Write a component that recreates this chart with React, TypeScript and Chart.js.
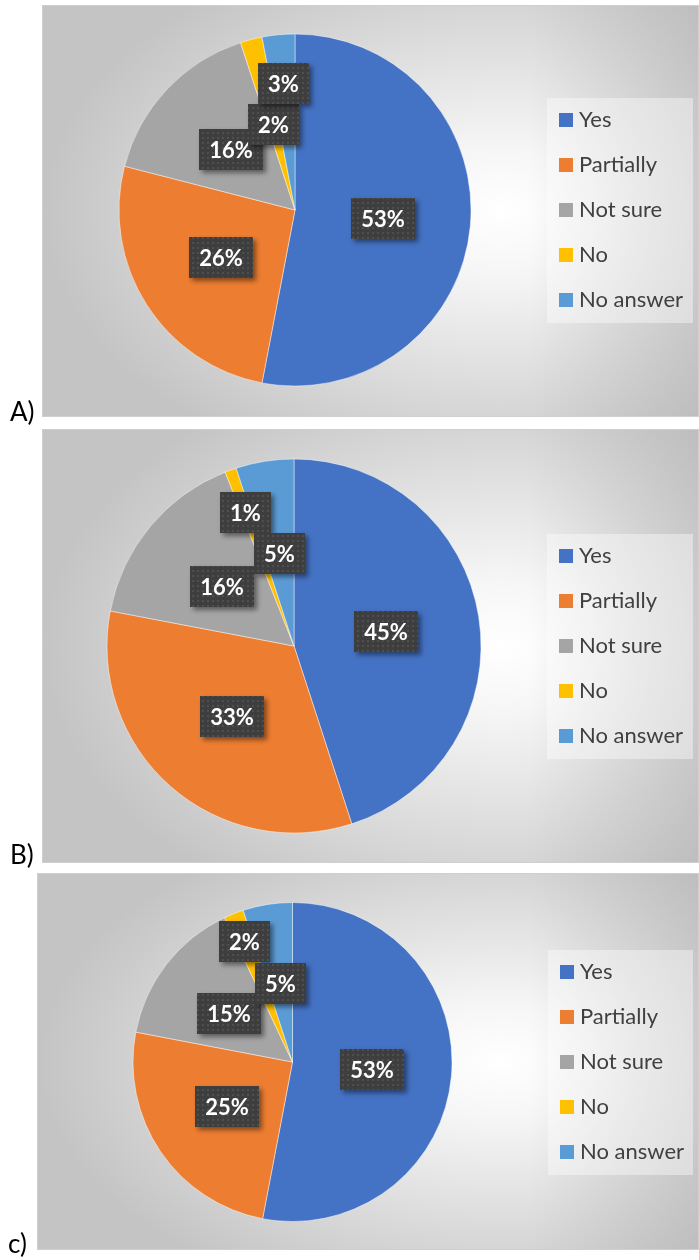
import React, { useEffect, useRef } from 'react';
import { Chart, registerables } from 'chart.js';

Chart.register(...registerables);

// ---------- data ----------
const categories = ['Yes', 'Partially', 'Not sure', 'No', 'No answer'];
const valuesA = [53, 26, 16, 2, 3];
const valuesB = [45, 33, 16, 1, 5];
const valuesC = [53, 25, 15, 2, 5];
const panelNames = ['A)', 'B)', 'c)'];
const sliceColors = ['#4472C4', '#ED7D31', '#A5A5A5', '#FFC000', '#5B9BD5'];

const FONT = 'Lato, "Open Sans", "DejaVu Sans", sans-serif';

type PanelCfg = {
  values: number[];
  name: string;
  top: number;
  height: number;
  panel: { x: number; y: number; w: number; h: number };
  padding: { left: number; top: number; right: number; bottom: number };
  legendX: number;
  labelOrder: number[];
  letterX: number;
  letterY: number;
};

const panels: PanelCfg[] = [
  {
    values: valuesA, name: panelNames[0], top: 0, height: 428,
    panel: { x: 42, y: 5, w: 657, h: 412 },
    padding: { left: 118.5, top: 33.5, right: 227.5, bottom: 41.5 },
    legendX: 559, labelOrder: [0, 1, 2, 3, 4], letterX: 10, letterY: 421,
  },
  {
    values: valuesB, name: panelNames[1], top: 428, height: 444,
    panel: { x: 42, y: 1, w: 657, h: 434 },
    padding: { left: 106.5, top: 30.5, right: 217.5, bottom: 38.5 },
    legendX: 559, labelOrder: [0, 1, 2, 4, 3], letterX: 10, letterY: 436,
  },
  {
    values: valuesC, name: panelNames[2], top: 872, height: 388,
    panel: { x: 37, y: 1, w: 662, h: 377 },
    padding: { left: 132.5, top: 30, right: 246.5, bottom: 38 },
    legendX: 560, labelOrder: [0, 1, 2, 4, 3], letterX: 8, letterY: 381,
  },
];

function makePattern(ctx: CanvasRenderingContext2D) {
  const c = document.createElement('canvas');
  c.width = 5;
  c.height = 5;
  const g = c.getContext('2d')!;
  g.fillStyle = '#3e3e3e';
  g.fillRect(0, 0, 5, 5);
  g.fillStyle = '#4f4f4f';
  g.fillRect(2, 2, 2, 2);
  return ctx.createPattern(c, 'repeat')!;
}

function PieChart({ cfg }: { cfg: PanelCfg }) {
  const ref = useRef<HTMLCanvasElement | null>(null);

  useEffect(() => {
    const canvas = ref.current!;
    const bgPlugin = {
      id: 'bgPanel',
      beforeDraw(chart: any) {
        const ctx: CanvasRenderingContext2D = chart.ctx;
        const { x, y, w, h } = cfg.panel;
        ctx.save();
        const gcx = x + 0.7 * w;
        const gcy = y + h / 2;
        const rx = 0.7 * w;
        const ry = 0.68 * h;
        ctx.save();
        ctx.beginPath();
        ctx.rect(x, y, w, h);
        ctx.clip();
        ctx.translate(gcx, gcy);
        ctx.scale(1, ry / rx);
        const g = ctx.createRadialGradient(0, 0, 0, 0, 0, rx);
        g.addColorStop(0, '#ffffff');
        g.addColorStop(0.22, '#f6f6f6');
        g.addColorStop(1, '#c4c4c4');
        ctx.fillStyle = g;
        ctx.fillRect(-gcx - 10, -(gcy + 10) * (rx / ry), 2000, 3000);
        ctx.restore();
        const lg = ctx.createLinearGradient(x + w - 170, 0, x + w, 0);
        lg.addColorStop(0, 'rgba(170,170,170,0)');
        lg.addColorStop(1, 'rgba(170,170,170,0.45)');
        ctx.fillStyle = lg;
        ctx.fillRect(x + w - 170, y, 170, h);
        ctx.strokeStyle = '#cfcfcf';
        ctx.lineWidth = 1;
        ctx.strokeRect(x + 0.5, y + 0.5, w - 1, h - 1);
        ctx.restore();
        ctx.save();
        ctx.font = `26px ${FONT}`;
        ctx.fillStyle = '#000000';
        ctx.textBaseline = 'alphabetic';
        ctx.textAlign = 'left';
        ctx.fillText(cfg.name, cfg.letterX, cfg.letterY);
        ctx.restore();
      },
    };

    const labelPlugin = {
      id: 'pctLabels',
      afterDatasetsDraw(chart: any) {
        const ctx: CanvasRenderingContext2D = chart.ctx;
        const meta = chart.getDatasetMeta(0);
        const data: number[] = chart.data.datasets[0].data;
        const pattern = makePattern(ctx);
        ctx.save();
        ctx.font = `bold 22px ${FONT}`;
        type R = { x: number; y: number; w: number; h: number };
        const placed: { i: number; r: R; cx: number; cy: number; text: string }[] = [];
        const overlap = (a: R, b: R) => {
          const ox = Math.max(0, Math.min(a.x + a.w, b.x + b.w) - Math.max(a.x, b.x));
          const oy = Math.max(0, Math.min(a.y + a.h, b.y + b.h) - Math.max(a.y, b.y));
          return ox * oy;
        };
        for (const i of cfg.labelOrder) {
          const arc = meta.data[i];
          const p = arc.getProps(['x', 'y', 'startAngle', 'endAngle', 'outerRadius'], true);
          const mid = (p.startAngle + p.endAngle) / 2;
          const text = `${data[i]}%`;
          const tw = ctx.measureText(text).width;
          const w = Math.round(tw + 20);
          const h = 41;
          const at = (d: number) => ({ cx: p.x + Math.cos(mid) * d, cy: p.y + Math.sin(mid) * d });
          const rectOf = (q: { cx: number; cy: number }): R => ({ x: q.cx - w / 2, y: q.cy - h / 2, w, h });
          let d = p.outerRadius / 2;
          let q = at(d);
          const heavy = placed.some(
            (b) => overlap(rectOf(q), b.r) / Math.min(w * h, b.r.w * b.r.h) > 0.4
          );
          if (heavy) {
            while (placed.some((b) => overlap(rectOf(at(d)), b.r) > 0) && d < p.outerRadius * 1.5) d += 0.5;
            q = at(d);
          }
          placed.push({ i, r: rectOf(q), cx: q.cx, cy: q.cy, text });
        }
        placed.sort((a, b) => a.i - b.i);
        for (const b of placed) {
          const rx = Math.round(b.r.x);
          const ry = Math.round(b.r.y);
          ctx.save();
          ctx.shadowColor = 'rgba(0,0,0,0.45)';
          ctx.shadowBlur = 5;
          ctx.shadowOffsetX = 3;
          ctx.shadowOffsetY = 3;
          ctx.fillStyle = pattern;
          ctx.fillRect(rx, ry, b.r.w, b.r.h);
          ctx.restore();
          ctx.fillStyle = '#ffffff';
          ctx.textAlign = 'center';
          ctx.textBaseline = 'middle';
          ctx.fillText(b.text, rx + b.r.w / 2, ry + b.r.h / 2 + 1);
        }
        ctx.restore();
      },
      afterDraw(chart: any) {
        const ctx: CanvasRenderingContext2D = chart.ctx;
        const area = chart.chartArea;
        const cy = (area.top + area.bottom) / 2;
        const labels: string[] = chart.data.labels;
        const colors: string[] = chart.data.datasets[0].backgroundColor;
        ctx.save();
        ctx.fillStyle = 'rgba(255,255,255,0.4)';
        ctx.fillRect(cfg.legendX - 12, Math.round(cy - 112.5), 693 - (cfg.legendX - 12), 225);
        ctx.font = `22px ${FONT}`;
        ctx.textBaseline = 'alphabetic';
        ctx.textAlign = 'left';
        labels.forEach((lab, i) => {
          const iy = Math.round(cy + (i - 2) * 45);
          ctx.fillStyle = colors[i];
          ctx.fillRect(cfg.legendX, iy - 7, 14, 14);
          ctx.fillStyle = '#404040';
          ctx.fillText(lab, cfg.legendX + 20, iy + 7);
        });
        ctx.restore();
      },
    };

    const chart = new Chart(canvas, {
      type: 'pie',
      data: {
        labels: categories,
        datasets: [
          {
            data: cfg.values,
            backgroundColor: sliceColors,
            borderColor: 'rgba(255,255,255,0.45)',
            borderWidth: 1,
          },
        ],
      },
      options: {
        responsive: false,
        animation: false,
        events: [],
        layout: { padding: cfg.padding },
        plugins: {
          legend: { display: false },
          tooltip: { enabled: false },
        },
      },
      plugins: [bgPlugin, labelPlugin],
    });
    return () => chart.destroy();
  }, [cfg]);

  return (
    <canvas
      ref={ref}
      width={699}
      height={cfg.height}
      style={{ position: 'absolute', left: 0, top: cfg.top, width: 699, height: cfg.height, display: 'block' }}
    />
  );
}

export default function App() {
  return (
    <div style={{ position: 'absolute', left: 0, top: 0, width: 699, height: 1260, background: '#ffffff' }}>
      {panels.map((p, i) => (
        <PieChart key={i} cfg={p} />
      ))}
    </div>
  );
}
